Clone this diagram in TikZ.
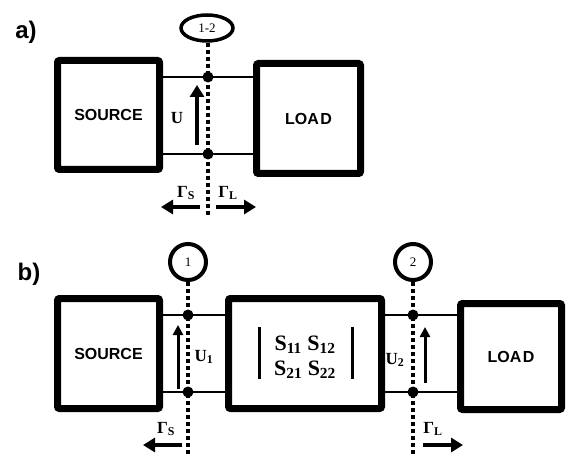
\documentclass[tikz,border=0pt]{standalone}
\usepackage{fontspec}
\setmainfont{Liberation Serif}
\newfontfamily\arialfont{Liberation Sans}
\usetikzlibrary{arrows.meta,shapes.geometric}
\tikzset{
  blk/.style={draw, line width=7pt, rounded corners=2pt, fill=white, inner sep=0pt,
    font=\arialfont\bfseries\fontsize{16}{18}\selectfont},
  wire/.style={line width=1.5pt},
  junc/.style={circle, fill=black, inner sep=0pt, minimum size=11pt},
  cut/.style={line width=4pt, dash pattern=on 4pt off 3pt},
  varr/.style={line width=3.5pt, -{Triangle[length=12pt,width=14pt]}},
  thinarr/.style={line width=3pt, -{Triangle[length=10pt,width=10pt]}},
  lbl/.style={font=\bfseries\fontsize{17}{20}\selectfont, inner sep=0pt},
  tag/.style={font=\arialfont\bfseries\fontsize{24}{26}\selectfont, inner sep=0pt},
  port/.style={draw, line width=4pt, circle, minimum size=36pt, inner sep=0pt, fill=white,
    font=\fontsize{13}{15}\selectfont},
  portell/.style={draw, line width=3.5pt, ellipse, minimum width=52pt, minimum height=26pt,
    inner sep=0pt, fill=white, font=\fontsize{13}{15}\selectfont},
  matbar/.style={line width=3pt},
}
\begin{document}
\begin{tikzpicture}[x=1pt,y=-1pt]
\useasboundingbox (0,0) rectangle (567,454);

% ---------------- a) ----------------
\node[tag] (ta) at (26,32) {a)};
\node[portell] (p12) at (207,28) {1-2};
\coordinate (cutaend) at (208,216);
\coordinate (da1) at (208,77);
\coordinate (da2) at (208,154);

\node[blk, minimum width=102pt, minimum height=109pt] (srca) at (108.5,115) {SOURCE};
\node[blk, minimum width=104pt, minimum height=110pt] (loada) at (308.5,118.5) {LOA\kern1.5pt D};

\draw[wire] (srca.east |- da1) -- (loada.west |- da1);
\draw[wire] (srca.east |- da2) -- (loada.west |- da2);
\draw[cut] (p12.south -| da1) -- (cutaend);
\node[junc] (ja1) at (da1) {};
\node[junc] (ja2) at (da2) {};

\coordinate (ua0) at (197,145);
\coordinate (ua1) at (197,85);
\draw[varr] (ua0) -- (ua1);
\node[lbl] (ula) at (177,118) {U};

\node[lbl] (gsa) at (186,193) {Γ\textsubscript{S}};
\node[lbl] (gla) at (228,193) {Γ\textsubscript{L}};
\coordinate (gsa0) at (200,207);
\coordinate (gsa1) at (161,207);
\coordinate (gla0) at (216,207);
\coordinate (gla1) at (256,207);
\draw[varr] (gsa0) -- (gsa1);
\draw[varr] (gla0) -- (gla1);

% ---------------- b) ----------------
\node[tag] (tb) at (29,274) {b)};
\node[port] (p1) at (188,262) {1};
\node[port] (p2) at (413,262) {2};
\coordinate (cut1end) at (188,454);
\coordinate (cut2end) at (413,454);
\coordinate (db1) at (188,315);
\coordinate (db2) at (188,392);
\coordinate (db3) at (413,315);
\coordinate (db4) at (413,392);

\node[blk, minimum width=102pt, minimum height=110pt] (srcb) at (108.5,353.5) {SOURCE};
\node[blk, minimum width=153pt, minimum height=110pt] (sbox) at (305,353.5) {};
\node[blk, minimum width=101pt, minimum height=106pt] (loadb) at (511,356.5) {LOA\kern1.5pt D};

\draw[wire] (srcb.east |- db1) -- (sbox.west |- db1);
\draw[wire] (srcb.east |- db2) -- (sbox.west |- db2);
\draw[wire] (sbox.east |- db3) -- (loadb.west |- db3);
\draw[wire] (sbox.east |- db4) -- (loadb.west |- db4);

\draw[cut] (p1.south) -- (cut1end);
\draw[cut] (p2.south) -- (cut2end);
\node[junc] (jb1) at (db1) {};
\node[junc] (jb2) at (db2) {};
\node[junc] (jb3) at (db3) {};
\node[junc] (jb4) at (db4) {};

\node[font=\bfseries\fontsize{22}{25}\selectfont, align=center, inner sep=0pt] (mat) at (305,357)
  {S\textsubscript{11} S\textsubscript{12}\\S\textsubscript{21} S\textsubscript{22}};
\draw[matbar] (259,327) -- (259,379);
\draw[matbar] (352,327) -- (352,379);

\coordinate (u10) at (178,389);
\coordinate (u11) at (178,325);
\draw[thinarr] (u10) -- (u11);
\node[lbl] (ulb1) at (204,357) {U\textsubscript{1}};

\coordinate (u20) at (425,383);
\coordinate (u21) at (425,327);
\draw[thinarr] (u20) -- (u21);
\node[lbl] (ulb2) at (395,360) {U\textsubscript{2}};

\node[lbl] (gsb) at (166,429) {Γ\textsubscript{S}};
\node[lbl] (glb) at (433,429) {Γ\textsubscript{L}};
\coordinate (gsb0) at (182,445);
\coordinate (gsb1) at (143,445);
\coordinate (glb0) at (423,445);
\coordinate (glb1) at (463,445);
\draw[varr] (gsb0) -- (gsb1);
\draw[varr] (glb0) -- (glb1);
\end{tikzpicture}
\end{document}
